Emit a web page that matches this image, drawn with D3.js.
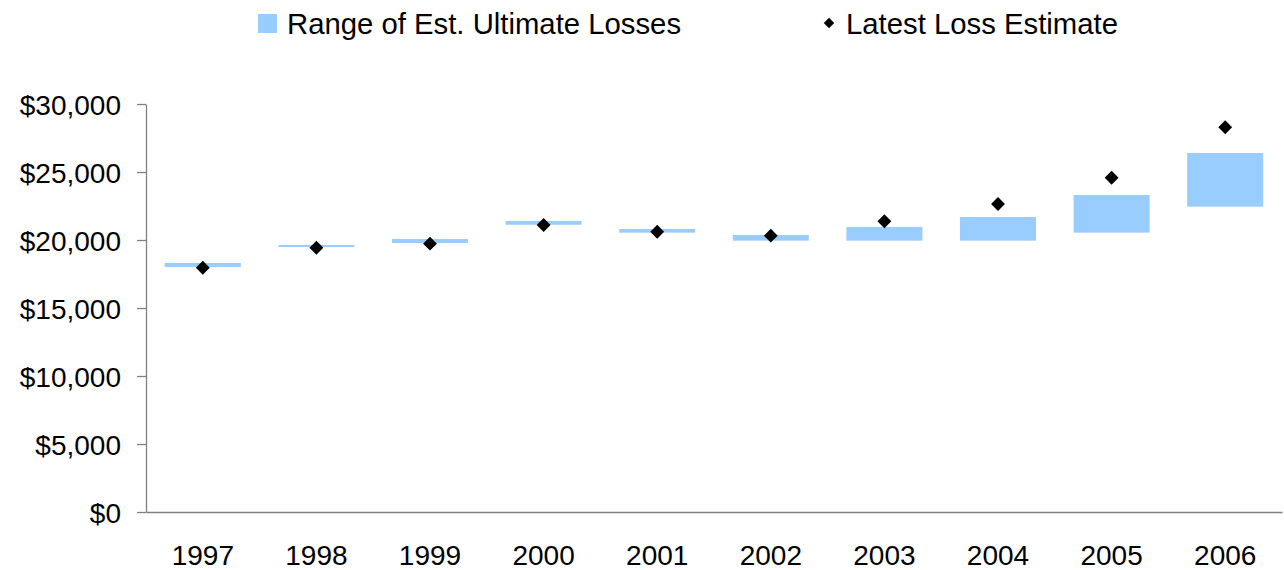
<!DOCTYPE html>
<html>
<head>
<meta charset="utf-8">
<script src="https://cdn.jsdelivr.net/npm/d3@7"></script>
<style>
  html, body { margin: 0; padding: 0; background: #fff; }
  svg { display: block; font-family: Arial, "Liberation Sans", sans-serif; }
</style>
</head>
<body>
<svg id="chart" width="1284" height="570"></svg>
<script>
// Accident years and loss estimates (in $ thousands)
const years = ["1997", "1998", "1999", "2000", "2001", "2002", "2003", "2004", "2005", "2006"];
const rangeLow  = [18010, 19480, 19780, 21120, 20540, 19950, 19950, 19950, 20540, 22450];
const rangeHigh = [18310, 19630, 20070, 21400, 20810, 20370, 20960, 21690, 23310, 26400];
const latestEstimate = [17960, 19430, 19730, 21100, 20610, 20320, 21380, 22650, 24580, 28290];
const yTicks = [0, 5000, 10000, 15000, 20000, 25000, 30000];

const barColor = "#99CCFF";
const axisColor = "#808080";
const fontSize = 28;
const legendFontSize = 29.3;

const svg = d3.select("#chart");
const margin = { left: 146, right: 2, top: 104, bottom: 58 };
const W = 1284, H = 570;

const x = d3.scaleBand()
  .domain(years)
  .range([margin.left, W - margin.right])
  .paddingInner(0.331)
  .paddingOuter(0.1655);

const y = d3.scaleLinear()
  .domain([0, 30000])
  .range([H - margin.bottom, margin.top]);

const fmt = v => "$" + d3.format(",")(v);

// Range bars
const rows = years.map((yr, i) => ({ yr, lo: rangeLow[i], hi: rangeHigh[i], est: latestEstimate[i] }));

svg.append("g")
  .selectAll("rect")
  .data(rows)
  .join("rect")
  .attr("x", d => x(d.yr))
  .attr("width", x.bandwidth())
  .attr("y", d => y(d.hi))
  .attr("height", d => y(d.lo) - y(d.hi))
  .attr("fill", barColor);

// Y axis
const yAxis = svg.append("g")
  .attr("transform", `translate(${margin.left},0)`)
  .call(d3.axisLeft(y).tickValues(yTicks).tickFormat(fmt).tickSize(9).tickSizeOuter(0).tickPadding(16));
yAxis.select(".domain").attr("stroke", axisColor).attr("stroke-width", 1.3);
yAxis.selectAll(".tick line").attr("stroke", axisColor).attr("stroke-width", 1.3);
yAxis.selectAll(".tick text")
  .attr("font-size", fontSize)
  .attr("font-family", "Arial, 'Liberation Sans', sans-serif")
  .attr("fill", "#000")
  .attr("dy", "0.36em");

// X axis
const xAxis = svg.append("g")
  .attr("transform", `translate(0,${y(0)})`)
  .call(d3.axisBottom(x).tickSize(0).tickSizeOuter(0));
xAxis.select(".domain").attr("stroke", axisColor).attr("stroke-width", 1.3);
xAxis.selectAll(".tick text")
  .attr("font-size", fontSize)
  .attr("font-family", "Arial, 'Liberation Sans', sans-serif")
  .attr("fill", "#000")
  .attr("y", 53)
  .attr("dy", 0);

// Latest estimate markers
const diamond = d3.symbol().type(d3.symbolSquare).size(96);
svg.append("g")
  .selectAll("path")
  .data(rows)
  .join("path")
  .attr("d", diamond)
  .attr("transform", d => `translate(${x(d.yr) + x.bandwidth() / 2},${y(d.est)}) rotate(45)`)
  .attr("fill", "#000");

// Legend
const legend = svg.append("g");
legend.append("rect")
  .attr("x", 258).attr("y", 14).attr("width", 19).attr("height", 19)
  .attr("fill", barColor);
legend.append("text")
  .attr("x", 287).attr("y", 33.5)
  .attr("font-size", legendFontSize)
  .text("Range of Est. Ultimate Losses");
legend.append("path")
  .attr("d", d3.symbol().type(d3.symbolSquare).size(55))
  .attr("transform", "translate(829,23) rotate(45)")
  .attr("fill", "#000");
legend.append("text")
  .attr("x", 846).attr("y", 33.5)
  .attr("font-size", legendFontSize)
  .text("Latest Loss Estimate");
</script>
</body>
</html>
